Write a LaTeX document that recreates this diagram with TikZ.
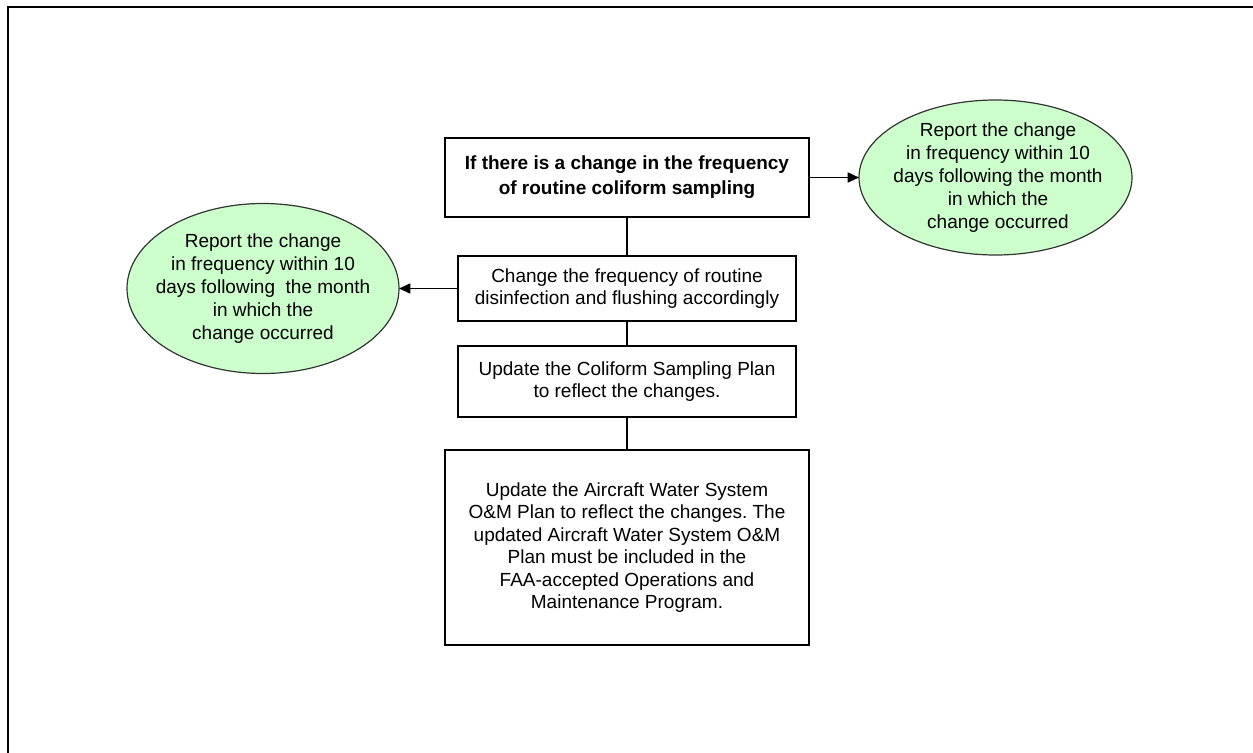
\documentclass[tikz,border=0pt]{standalone}
\usepackage{fontspec}
\setmainfont{Liberation Sans}
\usetikzlibrary{arrows.meta,shapes.geometric}
\newdimen\PX
\PX=0.75pt
\definecolor{notegreen}{RGB}{204,255,204}
\tikzset{
  stepbox/.style={draw=black, line width=1.5\PX, fill=white, inner sep=0pt, outer sep=0pt,
    align=center, font=\fontsize{14.25pt}{16.9pt}\selectfont},
  titlebox/.style={stepbox, font=\fontsize{14.25pt}{18.75pt}\selectfont\bfseries},
  reportoval/.style={ellipse, draw=black!80, line width=1.2\PX, fill=notegreen,
    inner sep=0pt, outer sep=0pt},
  ovaltext/.style={align=center, inner sep=0pt, font=\fontsize{14.25pt}{17.1pt}\selectfont},
  link/.style={line width=1.6\PX, draw=black},
  arrowlink/.style={link, -{Triangle[length=8.5pt, width=7.5pt]}},
  frame/.style={line width=2\PX, draw=black}
}
\frenchspacing
\begin{document}
\begin{tikzpicture}[x=0.75pt, y=-0.75pt]
  \useasboundingbox (0,0) rectangle (1253,753);
  % page frame (top and left edges)
  \coordinate (ftr) at (1253,7);
  \coordinate (ftl) at (8,7);
  \coordinate (fbl) at (8,753);
  \draw[frame] (ftr) -- (ftl) -- (fbl);

  % main chain of steps
  \node[titlebox, minimum width=364\PX, minimum height=79\PX] (title) at (627,177.5)
    {If there is a change in the frequency\\of routine coliform sampling};
  \node[stepbox, minimum width=338\PX, minimum height=65\PX] (freq) at (627,288.5)
    {Change the frequency of routine\\disinfection and flushing accordingly};
  \node[stepbox, minimum width=338\PX, minimum height=71\PX] (plan) at (627,381.5)
    {Update the Coliform Sampling Plan\\to reflect the changes.};
  \node[stepbox, minimum width=364\PX, minimum height=195\PX] (om) at (627,547.5)
    {Update the Aircraft Water System\\O\&M Plan to reflect the changes. The\\updated Aircraft Water System O\&M\\Plan must be included in the\\FAA-accepted Operations and\\Maintenance Program.};

  % reporting ovals
  \node[reportoval, minimum width=273\PX, minimum height=155\PX] (repR) at (995.5,177.5) {};
  \node[ovaltext] (repRtext) at (998,177.5)
    {Report the change\\in frequency within 10\\days following the month\\in which the\\change occurred};
  \node[reportoval, minimum width=272\PX, minimum height=170\PX] (repL) at (263,288.5) {};
  \node[ovaltext] (repLtext) at (repL.center)
    {Report the change\\in frequency within 10\\days following\ \ the month\\in which the\\change occurred};

  % connectors
  \draw[link] (title) -- (freq);
  \draw[link] (freq) -- (plan);
  \draw[link] (plan) -- (om);
  \draw[arrowlink] (title.east) -- (repR.west);
  \draw[arrowlink] (freq.west) -- (repL.east);
\end{tikzpicture}
\end{document}
